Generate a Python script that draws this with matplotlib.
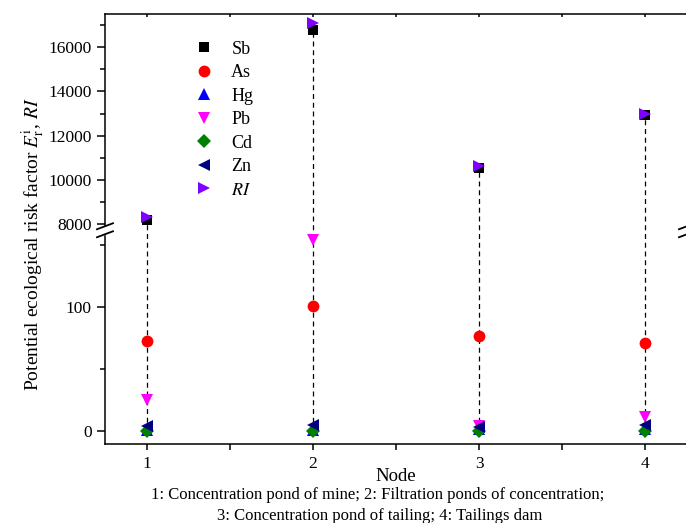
import numpy as np
import matplotlib
matplotlib.use("Agg")
import matplotlib.pyplot as plt
from matplotlib.ticker import FixedLocator

plt.rcParams['font.family'] = ['Liberation Serif', 'DejaVu Serif']
plt.rcParams['mathtext.fontset'] = 'stix'

# values
nodes = [1, 2, 3, 4]
sb = [8180, 16760, 10540, 12950]
as_ = [73, 101, 77, 71]
hg = [0.5, 1, 2, 2]
pb = [25, 154, 4, 11]
cd = [0, 0, 0, 0]
zn = [4, 5, 3, 5]
ri = [8320, 17080, 10640, 13000]

y_major = [0, 100, 8000, 10000, 12000, 14000, 16000]
y_minor = [50, 150, 9000, 11000, 13000, 15000, 17000]

# axis break: lower part up to B1, upper part from B2
B1, B2 = 162.0, 7730.0
K2 = (44.3 / 2000) / 1.24   # upper segment scale relative to lower


def fwd(y):
    y = np.asarray(y, dtype=float)
    low = np.minimum(y, B1)
    up = np.maximum(y - B2, 0) * K2
    return low + up


def inv(u):
    u = np.asarray(u, dtype=float)
    return np.where(u <= B1, u, B2 + (u - B1) / K2)


fig = plt.figure(figsize=(6.86, 5.23), dpi=100)
ax = fig.add_axes([105 / 686, 79 / 523, 582 / 686, 430 / 523])
ax.set_yscale('function', functions=(fwd, inv))
ax.set_xlim(0.75, 4.25)
ax.set_ylim(-10.5, 17500)

# dashed drop lines
for x, top in zip(nodes, ri):
    ax.plot([x, x], [0, top], color='black', linestyle=(0, (4, 3)), linewidth=0.9, zorder=1)

series = [
    ('Sb', sb, 's', 'black', 7.5),
    ('As', as_, 'o', '#ff0000', 8.5),
    ('Hg', hg, '^', '#0000ff', 8.5),
    ('Pb', pb, 'v', '#ff00ff', 8.5),
    ('Cd', cd, 'D', '#008000', 7),
    ('Zn', zn, '<', '#000080', 8.5),
    ('$RI$', ri, '>', '#8000ff', 8.5),
]
for label, vals, mk, col, ms in series:
    ax.plot(nodes, vals, linestyle='none', marker=mk, color=col, markersize=ms,
            markeredgewidth=0, label=label, zorder=3, clip_on=False)

ax.yaxis.set_major_locator(FixedLocator(y_major))
ax.yaxis.set_minor_locator(FixedLocator(y_minor))
ax.set_yticklabels([str(v) for v in y_major])
ax.set_xticks(nodes)
ax.set_xticks([1.5, 2.5, 3.5], minor=True)

ax.tick_params(axis='both', which='both', labelsize=12.5, width=1.1)
ax.tick_params(axis='y', which='major', direction='out', length=6, right=False)
ax.tick_params(axis='y', which='minor', direction='out', length=3.5, right=False)
ax.tick_params(axis='x', which='major', direction='out', length=4.5, top=True, pad=4.5)
ax.tick_params(axis='x', which='minor', direction='out', length=4.5, top=True)
for t in ax.xaxis.get_ticklines(minor=False)[1::2] + ax.xaxis.get_ticklines(minor=True)[1::2]:
    t.set_marker(3)  # top ticks pointing inward
    t.set_markersize(2.5)
for s in ax.spines.values():
    s.set_linewidth(1.1)

ax.set_xlabel('Node', fontsize=13.5, labelpad=-3.5)
ax.set_ylabel(r'Potential ecological risk factor $E_\mathrm{r}^\mathrm{i}$, $RI$', fontsize=14)
ax.yaxis.set_label_coords(-0.1, 0.465)

ax.legend(loc='upper left', bbox_to_anchor=(0.155, 0.938), frameon=False, fontsize=13,
          borderpad=0, labelspacing=0.36, handlelength=1.0, handletextpad=1.0,
          borderaxespad=0)

# break marks on left and right spines
yb = (fwd(B1) - fwd(-10.5)) / (fwd(17500) - fwd(-10.5))
px = 1.0 / 582
py = 1.0 / 430
for xa in (0.0, 1.0):
    ax.plot([xa, xa], [yb - 3 * py, yb + 2 * py], transform=ax.transAxes, color='white',
            linewidth=2.5, clip_on=False, zorder=5)
    for dy in (4, -4):
        ax.plot([xa - 8 * px, xa + 8 * px], [yb + (dy - 3) * py, yb + (dy + 3) * py],
                transform=ax.transAxes, color='black', linewidth=1.3, clip_on=False, zorder=6)

fig.text(0.551, 1 - 495 / 523, '1: Concentration pond of mine; 2: Filtration ponds of concentration;',
         ha='center', va='center', fontsize=12)
fig.text(0.553, 1 - 516 / 523, '3: Concentration pond of tailing; 4: Tailings dam',
         ha='center', va='center', fontsize=12)

fig.savefig('out.png', dpi=100)
